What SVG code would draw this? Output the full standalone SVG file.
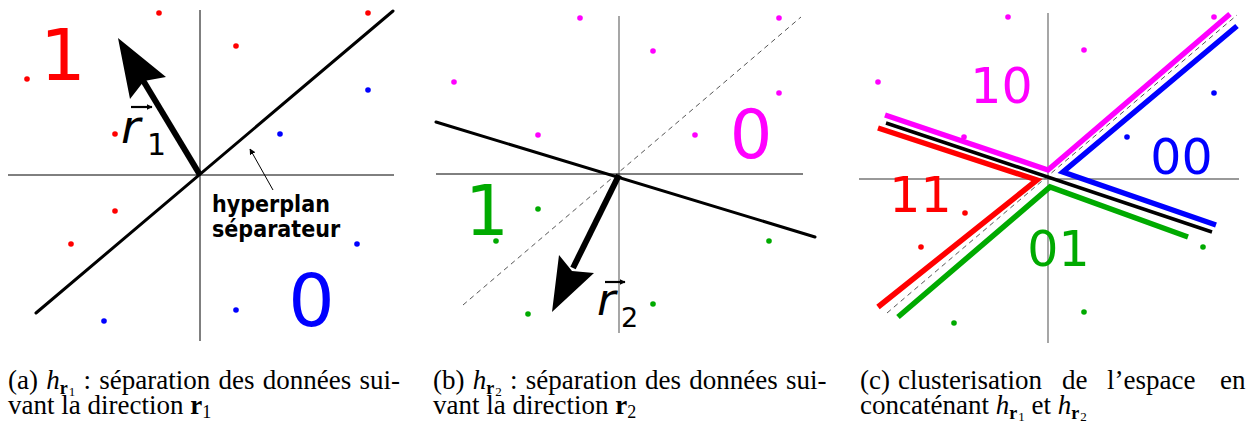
<svg xmlns="http://www.w3.org/2000/svg" width="1259" height="426" viewBox="0 0 1259 426">
<defs>
<style>
.axis{stroke:#000;stroke-width:1;fill:none}
.axisg{stroke:#777;stroke-width:1.3;fill:none}
.hyp{stroke:#000;stroke-width:3;fill:none;stroke-linecap:round}
.dash{stroke:#555;stroke-width:1;stroke-dasharray:5,4;fill:none}
.big{font-family:"DejaVu Sans",sans-serif;text-anchor:middle}
.vec{font-family:"DejaVu Sans",sans-serif;font-style:oblique}
.sub{font-family:"DejaVu Sans",sans-serif}
.cap{font-family:"Liberation Serif","Times New Roman",serif;font-size:27px;fill:#000}
.r{fill:#ff0000}.b{fill:#0000ff}.m{fill:#ff00ff}.g{fill:#00aa00}
.pl{fill:none;stroke-width:5.5;stroke-linejoin:miter;stroke-linecap:butt}
</style>
<marker id="sa" viewBox="0 0 10 10" refX="9" refY="5" markerWidth="6" markerHeight="6" orient="auto-start-reverse" markerUnits="userSpaceOnUse">
<path d="M0,0 L10,5 L0,10 z" fill="#000"/>
</marker>
</defs>
<rect width="1259" height="426" fill="#fff"/>

<!-- Panel (a) -->
<g id="panel-a">
<line class="axis" x1="200" y1="10" x2="200" y2="341"/>
<line class="axis" x1="8" y1="175" x2="394" y2="175"/>
<line class="hyp" x1="36" y1="313" x2="393" y2="11"/>
<g id="a-red-dots" class="r">
<circle cx="159" cy="13" r="2.8"/><circle cx="368" cy="13" r="2.8"/><circle cx="236" cy="46" r="2.8"/>
<circle cx="27" cy="79" r="2.8"/><circle cx="115" cy="134" r="2.8"/><circle cx="115" cy="211" r="2.8"/>
<circle cx="71" cy="244" r="2.8"/>
</g>
<g id="a-blue-dots" class="b">
<circle cx="368" cy="90" r="2.8"/><circle cx="280" cy="134" r="2.8"/><circle cx="357" cy="244" r="2.8"/>
<circle cx="236" cy="310" r="2.8"/><circle cx="104" cy="321" r="2.8"/>
</g>
<text class="big r" x="63" y="80" font-size="72">1</text>
<text class="big b" x="311.5" y="326" font-size="73">0</text>
<g id="a-vector">
<line x1="200" y1="175" x2="141" y2="77" stroke="#000" stroke-width="6"/>
<polygon points="118,38 166,77 144,81 130,99" fill="#000"/>
<text class="vec" x="121" y="143" font-size="47">r</text>
<text class="sub" x="147" y="155" font-size="30">1</text>
<line x1="131" y1="107" x2="152" y2="107" stroke="#000" stroke-width="2.2" marker-end="url(#sa)"/>
</g>
<g id="a-annotation">
<line x1="273" y1="190" x2="250" y2="149" stroke="#000" stroke-width="1" marker-end="url(#sa)"/>
<text x="212" y="212" font-family="'DejaVu Sans Condensed','DejaVu Sans',sans-serif" font-weight="bold" font-stretch="condensed" font-size="23">hyperplan</text>
<text x="212" y="237" font-family="'DejaVu Sans Condensed','DejaVu Sans',sans-serif" font-weight="bold" font-stretch="condensed" font-size="23">séparateur</text>
</g>
</g>

<!-- Panel (b) -->
<g id="panel-b">
<line class="axisg" x1="619" y1="16" x2="619" y2="333"/>
<line class="axis" x1="436" y1="174" x2="803" y2="174"/>
<line class="dash" x1="463" y1="305" x2="801" y2="17"/>
<line class="hyp" x1="436" y1="122" x2="815" y2="237"/>
<g id="b-magenta-dots" class="m">
<circle cx="580" cy="18" r="2.8"/><circle cx="779" cy="18" r="2.8"/><circle cx="653" cy="51" r="2.8"/>
<circle cx="454" cy="82" r="2.8"/><circle cx="779" cy="93" r="2.8"/><circle cx="538" cy="135" r="2.8"/>
<circle cx="695" cy="135" r="2.8"/>
</g>
<g id="b-green-dots" class="g">
<circle cx="538" cy="209" r="2.8"/><circle cx="496" cy="241" r="2.8"/><circle cx="769" cy="241" r="2.8"/>
<circle cx="653" cy="304" r="2.8"/><circle cx="528" cy="314" r="2.8"/>
</g>
<text class="big m" x="751" y="158" font-size="67">0</text>
<text class="big g" x="487" y="235" font-size="69">1</text>
<g id="b-vector">
<line x1="619" y1="175" x2="573" y2="268" stroke="#000" stroke-width="6"/>
<polygon points="552,312 559,255 572,271 594,273" fill="#000"/>
<text class="vec" x="597" y="315" font-size="45">r</text>
<text class="sub" x="621" y="327" font-size="27">2</text>
<line x1="605" y1="282" x2="625" y2="282" stroke="#000" stroke-width="2.2" marker-end="url(#sa)"/>
</g>
</g>

<!-- Panel (c) -->
<g id="panel-c">
<line class="axisg" x1="1048" y1="13" x2="1048" y2="343"/>
<line class="axisg" x1="859" y1="179" x2="1239" y2="179"/>
<line class="dash" x1="887" y1="313" x2="1237" y2="15"/>
<line x1="886" y1="123" x2="1212" y2="232" stroke="#000" stroke-width="3.5"/>
<polyline class="pl" points="885,115 1048,170 1230,14" stroke="#ff00ff"/>
<polyline class="pl" points="878,128 1037,180 878,307" stroke="#ff0000"/>
<polyline class="pl" points="1237,26 1063,172 1216,225" stroke="#0000ff"/>
<polyline class="pl" points="898,317 1050,187 1188,237" stroke="#00aa00"/>
<g id="c-dots">
<circle class="m" cx="1008" cy="17" r="2.8"/><circle class="m" cx="1214" cy="17" r="2.8"/><circle class="m" cx="1084" cy="50" r="2.8"/>
<circle class="m" cx="878" cy="82" r="2.8"/><circle class="m" cx="964" cy="137" r="2.8"/>
<circle class="b" cx="1214" cy="93" r="2.8"/><circle class="b" cx="1127" cy="137" r="2.8"/>
<circle class="r" cx="965" cy="213" r="2.8"/><circle class="r" cx="921" cy="247" r="2.8"/>
<circle class="g" cx="1203" cy="247" r="2.8"/><circle class="g" cx="1084" cy="312" r="2.8"/><circle class="g" cx="954" cy="323" r="2.8"/>
</g>
<text class="big m" x="1001.5" y="103" font-size="49">10</text>
<text class="big b" x="1181.5" y="174" font-size="49">00</text>
<text class="big r" x="920.5" y="212" font-size="49">11</text>
<text class="big g" x="1058.5" y="266" font-size="49">01</text>
</g>

<!-- Captions -->
<g id="captions">
<text class="cap" x="8" y="389" word-spacing="1.5">(a) <tspan font-style="italic">h</tspan><tspan font-weight="bold" font-size="18" dy="5">r</tspan><tspan font-size="13" dy="2" dx="1">1</tspan><tspan dy="-7"> : séparation des données sui-</tspan></text>
<text class="cap" x="8" y="414">vant la direction <tspan font-weight="bold">r</tspan><tspan font-size="18" dy="4">1</tspan></text>
<text class="cap" x="433" y="389" word-spacing="1.5">(b) <tspan font-style="italic">h</tspan><tspan font-weight="bold" font-size="18" dy="5">r</tspan><tspan font-size="13" dy="2" dx="1">2</tspan><tspan dy="-7"> : séparation des données sui-</tspan></text>
<text class="cap" x="433" y="414">vant la direction <tspan font-weight="bold">r</tspan><tspan font-size="18" dy="4">2</tspan></text>
<text class="cap" y="389"><tspan x="860">(c)</tspan><tspan x="898">clusterisation</tspan><tspan x="1062">de</tspan><tspan x="1107">l’espace</tspan><tspan x="1220">en</tspan></text>
<text class="cap" x="860" y="414">concaténant <tspan font-style="italic">h</tspan><tspan font-weight="bold" font-size="18" dy="5">r</tspan><tspan font-size="13" dy="2" dx="1">1</tspan><tspan dy="-7"> et </tspan><tspan font-style="italic">h</tspan><tspan font-weight="bold" font-size="18" dy="5">r</tspan><tspan font-size="13" dy="2" dx="1">2</tspan></text>
</g>
</svg>
